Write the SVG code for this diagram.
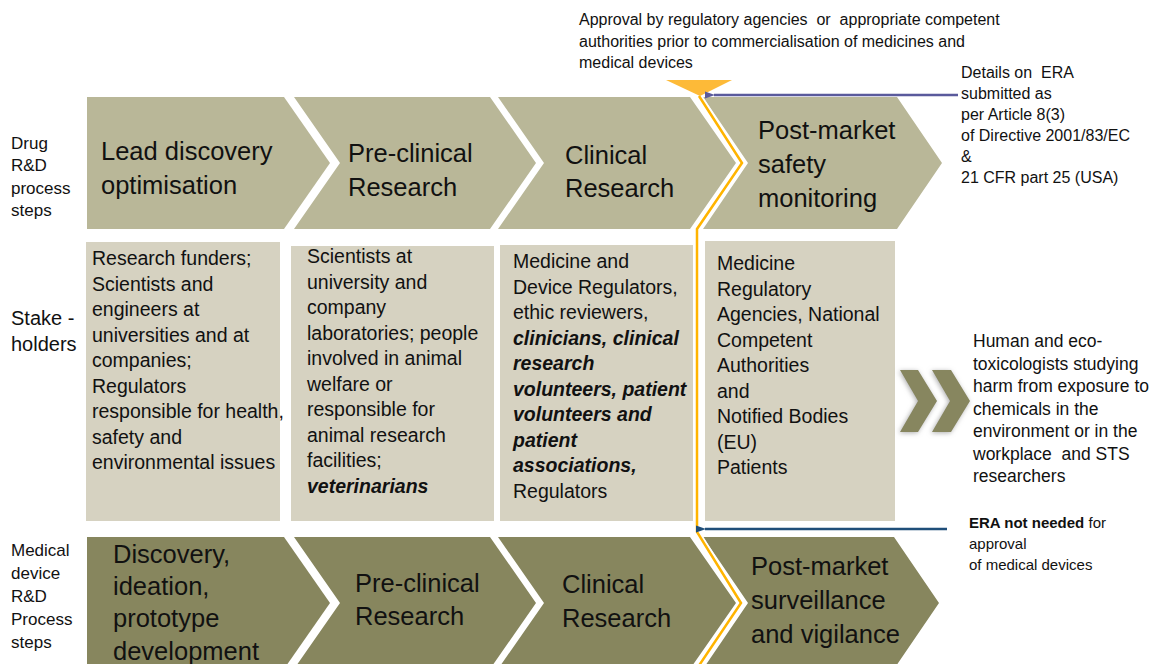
<svg xmlns="http://www.w3.org/2000/svg" width="1153" height="664" viewBox="0 0 1153 664">
<defs>
<style>
text{font-family:"Liberation Sans",Arial,sans-serif;fill:#111;}
.top{fill:#B9B798;}
.box{fill:#D6D2C1;}
.bot{fill:#87865E;}
.big{font-size:25.5px;}
.st{font-size:19.5px;}
.lab{font-size:17px;}
.note{font-size:16px;}
.bi{font-weight:bold;font-style:italic;}
</style>
<marker id="ahP" markerWidth="10" markerHeight="8" refX="1" refY="4" orient="auto-start-reverse" markerUnits="userSpaceOnUse">
<path d="M0,4 L10,0.5 L10,7.5 Z" fill="#5A5A9C"/>
</marker>
<marker id="ahB" markerWidth="10" markerHeight="8" refX="1" refY="4" orient="auto-start-reverse" markerUnits="userSpaceOnUse">
<path d="M0,4 L10,0.5 L10,7.5 Z" fill="#1F4E79"/>
</marker>
<filter id="glow" x="-30%" y="-30%" width="160%" height="160%">
<feGaussianBlur in="SourceAlpha" stdDeviation="2.5"/>
<feOffset dx="-1" dy="1" result="b"/>
<feFlood flood-color="#9a9a9a" flood-opacity="0.8"/>
<feComposite in2="b" operator="in"/>
<feMerge><feMergeNode/><feMergeNode in="SourceGraphic"/></feMerge>
</filter>
</defs>
<rect width="1153" height="664" fill="#fff"/>

<g id="top-note">
<text class="note" x="579" y="25" xml:space="preserve">Approval by regulatory agencies  or  appropriate competent</text>
<text class="note" x="579" y="47">authorities prior to commercialisation of medicines and</text>
<text class="note" x="579" y="68">medical devices</text>
</g>

<g id="row-labels">
<text class="lab" x="11" y="149">Drug</text>
<text class="lab" x="11" y="171">R&amp;D</text>
<text class="lab" x="11" y="194">process</text>
<text class="lab" x="11" y="216">steps</text>
<text x="11" y="325" font-size="20">Stake -</text>
<text x="11" y="351" font-size="20">holders</text>
<text class="lab" x="11" y="556">Medical</text>
<text class="lab" x="11" y="579">device</text>
<text class="lab" x="11" y="602">R&amp;D</text>
<text class="lab" x="11" y="625">Process</text>
<text class="lab" x="11" y="648">steps</text>
</g>

<g id="drug-lead">
<path class="top" d="M87,97 L284,97 L330,163 L284,229 L87,229 Z"/>
<text class="big" x="101" y="160">Lead discovery</text>
<text class="big" x="101" y="194">optimisation</text>
</g>
<g id="drug-preclinical">
<path class="top" d="M294,97 L490,97 L536,163 L490,229 L294,229 L340,163 Z"/>
<text class="big" x="348" y="162">Pre-clinical</text>
<text class="big" x="348" y="196">Research</text>
</g>
<g id="drug-clinical">
<path class="top" d="M498,97 L690,97 L736,163 L690,229 L498,229 L544,163 Z"/>
<text class="big" x="565" y="164">Clinical</text>
<text class="big" x="565" y="197">Research</text>
</g>
<g id="drug-postmarket">
<path class="top" d="M703,97 L897,97 L942,163 L897,229 L703,229 L748,163 Z"/>
<text class="big" x="758" y="139">Post-market</text>
<text class="big" x="758" y="173">safety</text>
<text class="big" x="758" y="207">monitoring</text>
</g>

<g id="sh-research">
<rect class="box" x="86" y="242" width="194" height="279"/>
<text class="st" x="92" y="265">Research funders;</text>
<text class="st" x="92" y="290.5">Scientists and</text>
<text class="st" x="92" y="316">engineers at</text>
<text class="st" x="92" y="341.5">universities and at</text>
<text class="st" x="92" y="367">companies;</text>
<text class="st" x="92" y="392.5">Regulators</text>
<text class="st" x="92" y="418">responsible for health,</text>
<text class="st" x="92" y="443.5">safety and</text>
<text class="st" x="92" y="469">environmental issues</text>
</g>
<g id="sh-preclinical">
<rect class="box" x="291" y="246" width="203" height="275"/>
<text class="st" x="307" y="263">Scientists at</text>
<text class="st" x="307" y="288.5">university and</text>
<text class="st" x="307" y="314">company</text>
<text class="st" x="307" y="339.5">laboratories; people</text>
<text class="st" x="307" y="365">involved in animal</text>
<text class="st" x="307" y="390.5">welfare or</text>
<text class="st" x="307" y="416">responsible for</text>
<text class="st" x="307" y="441.5">animal research</text>
<text class="st" x="307" y="467">facilities;</text>
<text class="st bi" x="307" y="492.5">veterinarians</text>
</g>
<g id="sh-clinical">
<rect class="box" x="500" y="245" width="193" height="276"/>
<text class="st" x="513" y="268">Medicine and</text>
<text class="st" x="513" y="293.5">Device Regulators,</text>
<text class="st" x="513" y="319">ethic reviewers,</text>
<text class="st bi" x="513" y="344.5">clinicians, clinical</text>
<text class="st bi" x="513" y="370">research</text>
<text class="st bi" x="513" y="395.5">volunteers, patient</text>
<text class="st bi" x="513" y="421">volunteers and</text>
<text class="st bi" x="513" y="446.5">patient</text>
<text class="st bi" x="513" y="472">associations,</text>
<text class="st" x="513" y="497.5">Regulators</text>
</g>
<g id="sh-postmarket">
<rect class="box" x="705" y="241" width="190" height="280"/>
<text class="st" x="717" y="270">Medicine</text>
<text class="st" x="717" y="295.5">Regulatory</text>
<text class="st" x="717" y="321">Agencies, National</text>
<text class="st" x="717" y="346.5">Competent</text>
<text class="st" x="717" y="372">Authorities</text>
<text class="st" x="717" y="397.5">and</text>
<text class="st" x="717" y="423">Notified Bodies</text>
<text class="st" x="717" y="448.5">(EU)</text>
<text class="st" x="717" y="474">Patients</text>
</g>

<g id="dev-discovery">
<path class="bot" d="M87,537 L284,537 L330,603 L284,669 L87,669 Z"/>
<text class="big" x="113" y="563">Discovery,</text>
<text class="big" x="113" y="595">ideation,</text>
<text class="big" x="113" y="627">prototype</text>
<text class="big" x="113" y="660">development</text>
</g>
<g id="dev-preclinical">
<path class="bot" d="M294,537 L490,537 L536,603 L490,669 L294,669 L340,603 Z"/>
<text class="big" x="355" y="592">Pre-clinical</text>
<text class="big" x="355" y="625">Research</text>
</g>
<g id="dev-clinical">
<path class="bot" d="M498,537 L690,537 L736,603 L690,669 L498,669 L544,603 Z"/>
<text class="big" x="562" y="593">Clinical</text>
<text class="big" x="562" y="627">Research</text>
</g>
<g id="dev-postmarket">
<path class="bot" d="M703,537 L894,537 L939,603 L894,669 L703,669 L748,603 Z"/>
<text class="big" x="751" y="575">Post-market</text>
<text class="big" x="751" y="609">surveillance</text>
<text class="big" x="751" y="643">and vigilance</text>
</g>

<g id="other-stakeholders">
<g filter="url(#glow)">
<path class="bot" d="M900,370 L918,370 L937,401 L918,432 L900,432 L918,401 Z"/>
<path class="bot" d="M932,370 L951,370 L970,401 L951,432 L932,432 L950,401 Z"/>
</g>
<text x="973" y="347" font-size="17.5">Human and eco-</text>
<text x="973" y="369.5" font-size="17.5">toxicologists studying</text>
<text x="973" y="392" font-size="17.5">harm from exposure to</text>
<text x="973" y="414.5" font-size="17.5">chemicals in the</text>
<text x="973" y="437" font-size="17.5">environment or in the</text>
<text x="973" y="459.5" font-size="17.5" xml:space="preserve">workplace  and STS</text>
<text x="973" y="482" font-size="17.5">researchers</text>
</g>

<g id="era-details">
<text class="note" x="961" y="78" xml:space="preserve">Details on  ERA</text>
<text class="note" x="961" y="99">submitted as</text>
<text class="note" x="961" y="120">per Article 8(3)</text>
<text class="note" x="961" y="141">of Directive 2001/83/EC</text>
<text class="note" x="961" y="162">&amp;</text>
<text class="note" x="961" y="183">21 CFR part 25 (USA)</text>
</g>
<g id="era-not-needed">
<text x="969" y="528" font-size="15"><tspan font-weight="bold">ERA not needed</tspan> for</text>
<text x="969" y="549" font-size="15">approval</text>
<text x="969" y="570" font-size="15">of medical devices</text>
</g>

<g id="connectors">
<polyline points="699,96 742,163 697,229 697,532 741,603 696,670" fill="none" stroke="#fff" stroke-width="6"/>
<polyline points="699,96 742,163 697,229 697,532 741,603 696,670" fill="none" stroke="#FFB400" stroke-width="2.5"/>
<path d="M666,80 L732,80 L700,96 Z" fill="#FDBA38"/>
<line x1="958" y1="95" x2="714" y2="95" stroke="#5A5A9C" stroke-width="2.5" marker-end="url(#ahP)"/>
<line x1="947" y1="529" x2="705" y2="529" stroke="#1F4E79" stroke-width="2.5" marker-end="url(#ahB)"/>
</g>
</svg>
